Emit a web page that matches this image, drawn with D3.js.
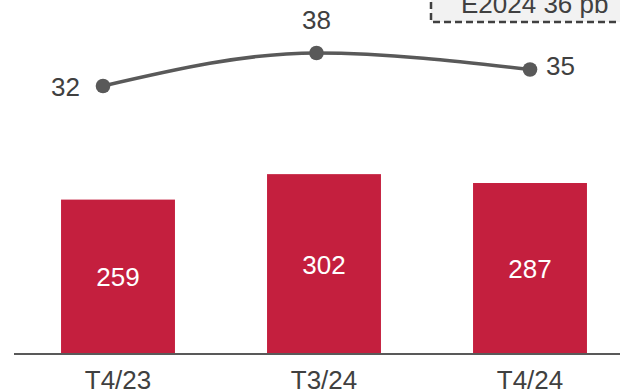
<!DOCTYPE html>
<html>
<head>
<meta charset="utf-8">
<script src="https://cdn.jsdelivr.net/npm/d3@7"></script>
<style>
  html, body { margin: 0; padding: 0; background: #fff; }
  svg { display: block; font-family: "Liberation Sans", Arial, sans-serif; }
</style>
</head>
<body>
<svg id="chart" width="620" height="391"></svg>
<script>
// Quarterly values
const categories = ["T4/23", "T3/24", "T4/24"];
const barValues = [259, 302, 287];
const lineValues = [32, 38, 35];
const boxLabel = "E2024 36 pb";

const svg = d3.select("#chart");
const W = 620;
const baseY = 353;
const fontSize = 26;

const barRed = "#c41f3e";
const lineGrey = "#595959";
const textGrey = "#404040";

// Bars
const x = d3.scaleBand().domain(categories).range([15, 633]).paddingInner(0.447).paddingOuter(0.2235);
const yBar = d3.scaleLinear().domain([0, 596]).range([baseY, 0]);

svg.append("g").selectAll("rect")
  .data(categories)
  .join("rect")
  .attr("x", d => x(d))
  .attr("y", (d, i) => yBar(barValues[i]))
  .attr("width", x.bandwidth())
  .attr("height", (d, i) => baseY - yBar(barValues[i]))
  .attr("fill", barRed);

svg.append("g").selectAll("text")
  .data(categories)
  .join("text")
  .attr("x", d => x(d) + x.bandwidth() / 2)
  .attr("y", (d, i) => (yBar(barValues[i]) + baseY) / 2 + 10)
  .attr("text-anchor", "middle")
  .attr("font-size", fontSize)
  .attr("fill", "#fff")
  .text((d, i) => barValues[i]);

// Baseline
svg.append("line")
  .attr("x1", 14).attr("x2", W)
  .attr("y1", baseY + 1).attr("y2", baseY + 1)
  .attr("stroke", lineGrey).attr("stroke-width", 2);

// Category labels
svg.append("g").selectAll("text")
  .data(categories)
  .join("text")
  .attr("x", d => x(d) + x.bandwidth() / 2)
  .attr("y", 389)
  .attr("text-anchor", "middle")
  .attr("font-size", fontSize)
  .attr("fill", textGrey)
  .text(d => d);

// Line series
const xLine = d3.scalePoint().domain(categories).range([103, 530]);
const yLine = d3.scaleLinear().domain([32, 38]).range([86, 53]);

const line = d3.line()
  .x((d, i) => xLine(categories[i]))
  .y(d => yLine(d))
  .curve(d3.curveMonotoneX);

svg.append("path")
  .datum(lineValues)
  .attr("d", line)
  .attr("fill", "none")
  .attr("stroke", lineGrey)
  .attr("stroke-width", 3.5);

svg.append("g").selectAll("circle")
  .data(lineValues)
  .join("circle")
  .attr("cx", (d, i) => xLine(categories[i]))
  .attr("cy", d => yLine(d))
  .attr("r", 7.3)
  .attr("fill", lineGrey);

// Point labels: left, above, right
const labelPos = [
  { dx: -23, dy: 10, anchor: "end" },
  { dx: 0, dy: -24, anchor: "middle" },
  { dx: 16, dy: 5, anchor: "start" }
];
svg.append("g").selectAll("text")
  .data(lineValues)
  .join("text")
  .attr("x", (d, i) => xLine(categories[i]) + labelPos[i].dx)
  .attr("y", d => yLine(d))
  .attr("dy", (d, i) => labelPos[i].dy)
  .attr("text-anchor", (d, i) => labelPos[i].anchor)
  .attr("font-size", fontSize)
  .attr("fill", textGrey)
  .text(d => d);

// Annual target box
svg.append("rect")
  .attr("x", 431).attr("y", -20)
  .attr("width", 220).attr("height", 42)
  .attr("fill", "#f2f2f2")
  .attr("stroke", textGrey)
  .attr("stroke-width", 2.5)
  .attr("stroke-dasharray", "7,4");

svg.append("text")
  .attr("x", 461).attr("y", 13)
  .attr("font-size", fontSize)
  .attr("fill", textGrey)
  .text(boxLabel);
</script>
</body>
</html>
